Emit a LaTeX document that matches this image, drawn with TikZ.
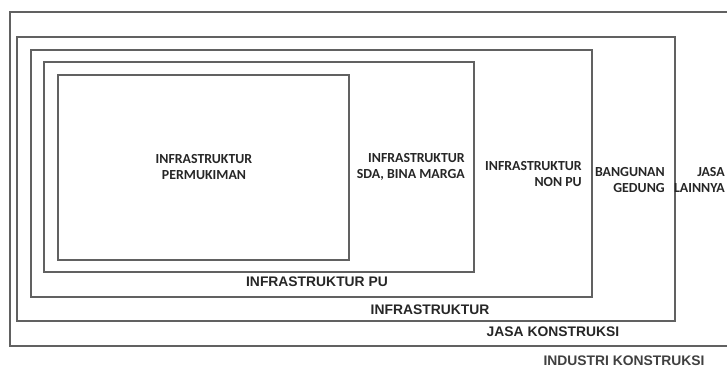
\documentclass[tikz,border=0pt]{standalone}
\usepackage{fontspec}
\setmainfont{Carlito}
\newfontfamily\arialfont{Liberation Sans}
\begin{document}
\begin{tikzpicture}[x=0.75pt,y=-0.75pt,
  frame/.style={draw=black!62,line width=1.5pt},
  clab/.style={font=\fontsize{10.4}{11.5}\selectfont\bfseries,text=black!85,inner sep=0pt,align=right},
  alab/.style={font=\arialfont\fontsize{10.4}{11}\selectfont\bfseries,text=black!85,inner sep=0pt},
]
\useasboundingbox (0,0) rectangle (727,369);
\clip (0,0) rectangle (727,369);
% boxes
\draw[frame] (10,12) rectangle (740,346);
\draw[frame] (17,37) rectangle (675,321);
\draw[frame] (31,50) rectangle (592,297);
\draw[frame] (44,62) rectangle (474,272);
\draw[frame] (58,75) rectangle (349,260);
% box labels
\node[clab,align=center] (perm) at (204,167) {INFRASTRUKTUR\\PERMUKIMAN};
\node[clab,anchor=east] (sda) at (465,167) {INFRASTRUKTUR\\SDA, BINA MARGA};
\node[clab,anchor=east] (nonpu) at (582,174) {INFRASTRUKTUR\\NON PU};
\node[clab,anchor=east] (bg) at (665,180) {BANGUNAN\\GEDUNG};
\node[clab,anchor=east] (jl) at (725,180) {JASA\\LAINNYA};
% bottom labels
\node[alab] (ipu) at (317,282) {INFRASTRUKTUR PU};
\node[alab] (inf) at (430,310) {INFRASTRUKTUR};
\node[alab] (jk) at (553,332) {JASA KONSTRUKSI};
\node[alab,text=black!75] (ik) at (624,361) {INDUSTRI KONSTRUKSI};
\end{tikzpicture}
\end{document}
